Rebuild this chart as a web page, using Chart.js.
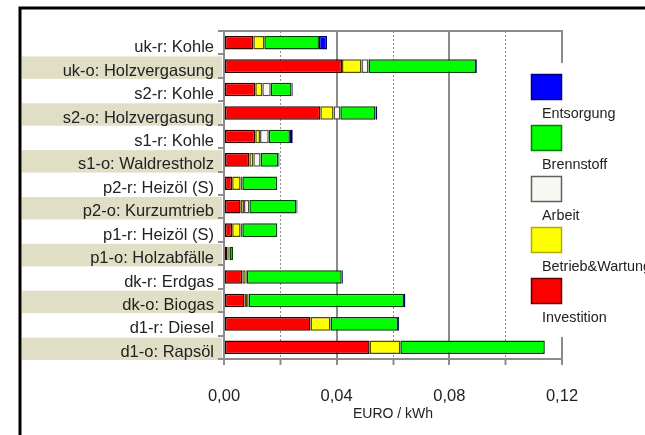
<!DOCTYPE html>
<html>
<head>
<meta charset="utf-8">
<script src="https://cdn.jsdelivr.net/npm/chart.js@4/dist/chart.umd.min.js"></script>
<style>
  html, body { margin: 0; padding: 0; background: #fff; }
  #wrap { width: 645px; height: 435px; }
</style>
</head>
<body>
<div id="wrap"><canvas id="kosten" width="645" height="435"></canvas></div>
<script>
// ── Stromgestehungskosten nach Kostenart ──

const labels = [
  'uk-r: Kohle', 'uk-o: Holzvergasung', 's2-r: Kohle', 's2-o: Holzvergasung',
  's1-r: Kohle', 's1-o: Waldrestholz', 'p2-r: Heizöl (S)', 'p2-o: Kurzumtrieb',
  'p1-r: Heizöl (S)', 'p1-o: Holzabfälle', 'dk-r: Erdgas', 'dk-o: Biogas',
  'd1-r: Diesel', 'd1-o: Rapsöl'
];

const investition = [0.0104, 0.0419, 0.0111, 0.0342, 0.0111, 0.0090, 0.0029, 0.0059, 0.0029, 0.0012, 0.0065, 0.0073, 0.0307, 0.0517];
const betrieb     = [0.0039, 0.0069, 0.0025, 0.0047, 0.0017, 0.0014, 0.0030, 0.0012, 0.0030, 0.0005, 0.0012, 0.0009, 0.0071, 0.0109];
const arbeit      = [0.0000, 0.0025, 0.0030, 0.0024, 0.0031, 0.0026, 0.0006, 0.0019, 0.0006, 0.0003, 0.0004, 0.0005, 0.0000, 0.0000];
const brennstoff  = [0.0194, 0.0382, 0.0074, 0.0125, 0.0075, 0.0063, 0.0124, 0.0167, 0.0124, 0.0012, 0.0337, 0.0552, 0.0240, 0.0513];
const entsorgung  = [0.0029, 0.0003, 0.0004, 0.0006, 0.0010, 0.0004, 0.0000, 0.0004, 0.0000, 0.0000, 0.0004, 0.0005, 0.0004, 0.0000];

const xTicks = [0, 0.04, 0.08, 0.12];

const FONT  = "'Liberation Sans', Arial, sans-serif";
const GRAY  = '#8c8c8c';
const BAND  = '#e0dec5';
const TEXT  = '#222';

const isMajor = v => Math.round(v * 100) % 4 === 0;

// Beige Streifen hinter jeder zweiten Beschriftung + schwarzer Rahmen
const bandsPlugin = {
  id: 'bands',
  beforeDraw(c) {
    const ctx = c.ctx, y = c.scales.y;
    const h = y.height / labels.length;
    ctx.save();
    ctx.fillStyle = BAND;
    labels.forEach((_, i) => {
      if (i % 2 === 1) {
        const top = y.getPixelForValue(i) - h / 2 + 2;
        ctx.fillRect(22, top, 200, h - 1);
      }
    });
    ctx.restore();
  },
  afterDraw(c) {
    const ctx = c.ctx, a = c.chartArea;
    ctx.save();
    // obere Begrenzung der Zeichenfläche
    ctx.strokeStyle = GRAY;
    ctx.lineWidth = 2;
    ctx.beginPath();
    ctx.moveTo(a.left - 1, a.top);
    ctx.lineTo(a.right + 1, a.top);
    ctx.stroke();
    // äußerer Rahmen
    ctx.strokeStyle = '#000';
    ctx.lineWidth = 3;
    ctx.beginPath();
    ctx.moveTo(20, 440);
    ctx.lineTo(20, 8);
    ctx.lineTo(650, 8);
    ctx.stroke();
    ctx.restore();
  }
};

// Legende: Kästchen über dem Text, oberste Kostenart zuerst
const legendPlugin = {
  id: 'boxLegend',
  afterDraw(c) {
    const ctx = c.ctx;
    ctx.save();
    ctx.fillStyle = '#fff';
    ctx.fillRect(522, 63, 123, 274);
    const sets = [...c.data.datasets].reverse();
    sets.forEach((ds, i) => {
      const top = 74 + i * 51;
      ctx.fillStyle = ds.backgroundColor;
      ctx.fillRect(531, top, 31, 26);
      ctx.strokeStyle = ds.legendBorder;
      ctx.lineWidth = 1.5;
      ctx.strokeRect(531.5, top + 0.5, 30, 25);
      ctx.fillStyle = TEXT;
      ctx.font = '14.4px ' + FONT;
      ctx.textBaseline = 'middle';
      ctx.fillText(ds.label, 542, top + 40);
    });
    ctx.restore();
  }
};

function ds(label, data, fill, border, legendBorder) {
  return {
    label, data,
    backgroundColor: fill,
    borderColor: border,
    legendBorder,
    borderWidth: 1.5,
    borderSkipped: false,
    barPercentage: 0.58,
    categoryPercentage: 1,
  };
}

new Chart(document.getElementById('kosten'), {
  type: 'bar',
  data: {
    labels,
    datasets: [
      ds('Investition',     investition, '#ff0000', '#300000', '#600000'),
      ds('Betrieb&Wartung', betrieb,     '#ffff00', '#505000', '#b0b000'),
      ds('Arbeit',          arbeit,      '#f8f8f3', '#505050', '#606060'),
      ds('Brennstoff',      brennstoff,  '#00ff00', '#004000', '#008000'),
      ds('Entsorgung',      entsorgung,  '#0000ff', '#000060', '#000080'),
    ]
  },
  options: {
    indexAxis: 'y',
    responsive: false,
    animation: false,
    layout: { padding: { left: 0, right: 83, top: 31, bottom: 0 } },
    plugins: { legend: { display: false }, tooltip: { enabled: false } },
    scales: {
      x: {
        stacked: true,
        min: 0,
        max: 0.12,
        afterFit: s => { s.height = 76; },
        afterBuildTicks: s => {
          s.ticks = [0, 0.02, 0.04, 0.06, 0.08, 0.10, 0.12].map(v => ({ value: v }));
        },
        grid: {
          color: GRAY,
          lineWidth: ctx => (ctx.tick && !isMajor(ctx.tick.value)) ? 1 : 2,
          tickColor: GRAY,
          tickWidth: 2,
          tickLength: 6,
        },
        border: {
          color: GRAY,
          width: 2,
          dash: ctx => (ctx.tick && !isMajor(ctx.tick.value)) ? [2, 2] : [],
        },
        ticks: {
          color: TEXT,
          font: { family: FONT, size: 16.5 },
          padding: 22,
          maxRotation: 0,
          autoSkip: false,
          callback: v => xTicks.some(t => Math.abs(t - v) < 1e-9) ? v.toFixed(2).replace('.', ',') : '',
        },
        title: {
          display: true,
          text: 'EURO / kWh',
          color: TEXT,
          font: { family: FONT, size: 14 },
          padding: { top: 0, bottom: 12 },
        },
      },
      y: {
        stacked: true,
        afterFit: s => { s.width = 224; },
        grid: {
          drawOnChartArea: false,
          offset: true,
          color: GRAY,
          tickColor: GRAY,
          lineWidth: 2,
          tickLength: 6,
        },
        border: { color: GRAY, width: 2 },
        ticks: {
          color: TEXT,
          font: { family: FONT, size: 16.5 },
          padding: 4,
          labelOffset: 5,
          autoSkip: false,
        },
      }
    }
  },
  plugins: [bandsPlugin, legendPlugin]
});
</script>
</body>
</html>
